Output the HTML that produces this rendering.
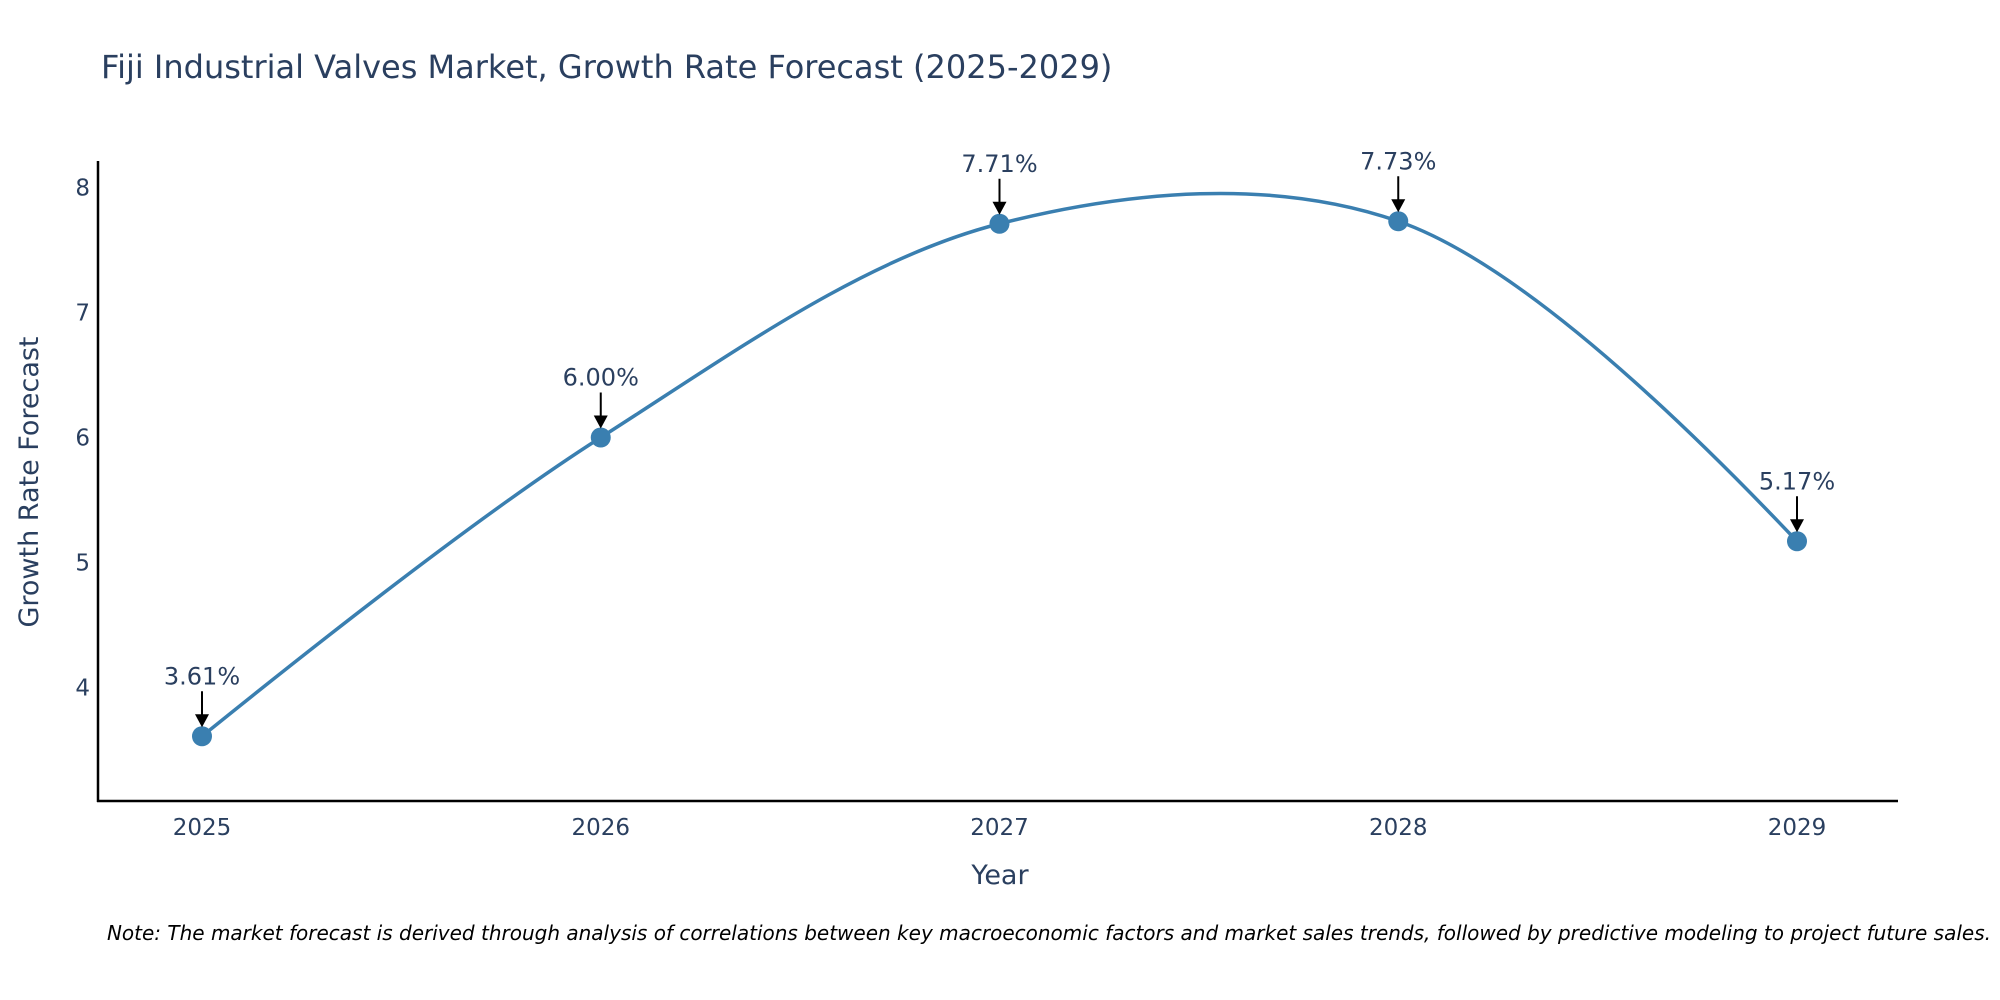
<!DOCTYPE html>
<html><head><meta charset="utf-8"><style>
body{margin:0;background:#fff;}
svg{display:block;font-family:"DejaVu Sans","Liberation Sans",sans-serif;}
</style></head><body>
<svg id="chart" width="2000" height="1000" viewBox="0 0 2000 1000" xmlns="http://www.w3.org/2000/svg">
<rect width="2000" height="1000" fill="#fff"/>
<text x="101" y="78" font-size="32" fill="#2a3f5f">Fiji Industrial Valves Market, Growth Rate Forecast (2025-2029)</text>
<g id="plot"></g>
<text x="1991" y="940" font-size="20" font-style="italic" fill="#000" text-anchor="end">Note: The market forecast is derived through analysis of correlations between key macroeconomic factors and market sales trends, followed by predictive modeling to project future sales.</text>
</svg>
<script>
const categories = ["2025","2026","2027","2028","2029"];
const values = [3.61, 6.00, 7.71, 7.73, 5.17];
const labels = ["3.61%","6.00%","7.71%","7.73%","5.17%"];
const yTicks = [4,5,6,7,8];

const NS="http://www.w3.org/2000/svg";
const g=document.getElementById('plot');
const X0=202, X1=1797, Y8=187.5, PXU=125;
function xs(i){return X0+(X1-X0)*i/(categories.length-1);}
function ys(v){return Y8+(8-v)*PXU;}
function mk(tag,attrs,text){const e=document.createElementNS(NS,tag);for(const k in attrs)e.setAttribute(k,attrs[k]);if(text!==undefined)e.textContent=text;g.appendChild(e);return e;}

let e;
e=mk('line',{x1:98,y1:161,x2:98,y2:802,stroke:'#000','stroke-width':2.5});


e=mk('line',{x1:97,y1:801,x2:1898,y2:801,stroke:'#000','stroke-width':2.5});



yTicks.forEach(t=>{
  e=mk('text',{x:90,y:ys(t)+8,'font-size':23,fill:'#2a3f5f','text-anchor':'end'},String(t));
  
  
});
categories.forEach((c,i)=>{
  e=mk('text',{x:xs(i),y:835,'font-size':23,fill:'#2a3f5f','text-anchor':'middle'},c);
  
  
});
e=mk('text',{x:1000,y:884,'font-size':27,fill:'#2a3f5f','text-anchor':'middle'},'Year');


e=mk('text',{x:38,y:482,'font-size':27,fill:'#2a3f5f','text-anchor':'middle',transform:'rotate(-90 38 482)'},'Growth Rate Forecast');



const pts=values.map((v,i)=>[xs(i),ys(v)]);
function tangent(p,t,n,s){
  const d1x=p[0]-t[0],d1y=p[1]-t[1],d2x=n[0]-t[0],d2y=n[1]-t[1];
  const d1a=Math.pow(d1x*d1x+d1y*d1y,0.25),d2a=Math.pow(d2x*d2x+d2y*d2y,0.25);
  const nx=(d2a*d2a*d1x-d1a*d1a*d2x)*s,ny=(d2a*d2a*d1y-d1a*d1a*d2y)*s;
  const a=3*d2a*(d1a+d2a),b=3*d1a*(d1a+d2a);
  return [[t[0]+nx/a,t[1]+ny/a],[t[0]-nx/b,t[1]-ny/b]];
}
const tg=[];for(let i=1;i<pts.length-1;i++)tg.push(tangent(pts[i-1],pts[i],pts[i+1],1));
let d='M'+pts[0]+'Q'+tg[0][0]+' '+pts[1];
for(let i=2;i<pts.length-1;i++)d+='C'+tg[i-2][1]+' '+tg[i-1][0]+' '+pts[i];
d+='Q'+tg[pts.length-3][1]+' '+pts[pts.length-1];
e=mk('path',{d:d,fill:'none',stroke:'#3a7fb0','stroke-width':3.5});



pts.forEach((p,i)=>{
  e=mk('circle',{cx:p[0],cy:p[1],r:10,fill:'#3a7fb0'});
  
  
  e=mk('line',{x1:p[0],y1:p[1]-45,x2:p[0],y2:p[1]-20,stroke:'#000','stroke-width':2});
  
  
  e=mk('polygon',{points:`${p[0]-7},${p[1]-22} ${p[0]+7},${p[1]-22} ${p[0]},${p[1]-9}`,fill:'#000'});
  
  
  e=mk('text',{x:p[0],y:p[1]-52,'font-size':24,fill:'#2a3f5f','text-anchor':'middle'},labels[i]);
  
  
});
</script>
</body></html>
